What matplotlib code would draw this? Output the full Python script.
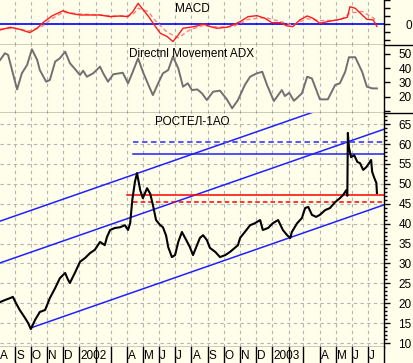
import numpy as np
import pandas as pd
import matplotlib
matplotlib.use('Agg')
import matplotlib.pyplot as plt
from matplotlib.lines import Line2D

plt.rcParams['font.family'] = ['Liberation Sans', 'DejaVu Sans']

base = pd.Timestamp('2001-08-01')

# price (days since 2001-08-01, value)
price_day = [3, 12, 22, 27, 33, 40, 50, 56, 61, 69,
             78, 88, 97, 107, 116, 126, 131, 135, 145, 154,
             164, 173, 182, 192, 201, 205, 211, 220, 230, 239,
             245, 249, 253, 258, 262, 268, 273, 281, 287, 292,
             298, 306, 311, 317, 321, 328, 334, 340, 347, 355,
             362, 368, 374, 381, 387, 394, 400, 410, 419, 429,
             438, 447, 453, 457, 466, 476, 485, 495, 500, 510,
             519, 529, 538, 546, 552, 555, 565, 574, 580, 586,
             593, 601, 608, 618, 627, 637, 646, 652, 658, 660,
             661, 663, 667, 673, 679, 684, 690, 696, 701, 705,
             707, 711, 715, 716]
price_val = [20.3, 20.8, 21.3, 21.6, 20.0, 18.3, 16.3, 15.0, 13.5, 15.8,
             17.8, 18.3, 21.3, 23.8, 26.3, 27.6, 26.0, 25.1, 27.8, 30.4,
             31.4, 32.6, 33.4, 35.4, 34.6, 36.6, 38.4, 38.9, 39.1, 39.6,
             38.4, 40.1, 45.9, 50.5, 52.7, 48.4, 46.4, 48.9, 47.5, 44.7,
             40.9, 39.6, 39.1, 37.0, 34.1, 31.6, 32.1, 35.4, 37.9, 35.9,
             34.1, 32.1, 34.1, 36.4, 37.1, 35.9, 33.9, 32.9, 31.6, 32.1,
             32.9, 33.9, 34.6, 36.4, 37.9, 39.6, 40.1, 40.9, 38.4, 38.9,
             40.1, 40.9, 38.4, 37.1, 36.4, 37.9, 40.1, 41.4, 43.9, 44.2,
             42.2, 41.7, 42.2, 43.4, 43.9, 45.4, 46.4, 47.2, 48.4, 47.0,
             62.8, 59.2, 56.7, 57.2, 55.5, 55.2, 53.5, 54.2, 55.2, 56.0,
             53.0, 51.5, 50.2, 47.7]

adx_day = [3, 12, 18, 27, 35, 44, 54, 63, 73, 78,
           90, 97, 107, 116, 126, 135, 145, 154, 160, 167,
           179, 192, 198, 207, 217, 235, 245, 254, 264, 273,
           285, 292, 302, 311, 321, 330, 340, 349, 358, 366,
           376, 385, 394, 406, 419, 432, 442, 453, 466, 476,
           489, 499, 508, 521, 536, 542, 550, 559, 574, 584,
           593, 608, 623, 637, 646, 656, 663, 675, 688, 697,
           707, 716]
adx_val = [45.8, 50.5, 49.3, 36.4, 25.1, 36.4, 42.3, 53.3, 45.8, 38.7,
           30.5, 31.7, 44.6, 47.0, 51.6, 43.5, 39.2, 35.2, 38.2, 34.0,
           36.4, 41.1, 36.4, 30.5, 35.7, 36.8, 29.4, 37.5, 47.0, 37.5,
           27.0, 21.1, 29.4, 36.4, 38.7, 48.1, 39.9, 27.0, 29.4, 24.6,
           25.1, 22.3, 17.6, 23.5, 24.2, 18.1, 11.8, 17.6, 28.2, 34.0,
           36.4, 37.5, 28.2, 16.9, 24.6, 20.4, 22.7, 17.1, 22.3, 34.0,
           32.8, 18.1, 18.1, 28.2, 29.4, 37.5, 47.7, 47.7, 37.5, 27.0,
           25.8, 25.8]

macd_day = [3, 22, 40, 59, 73, 84, 101, 122, 135, 154,
            173, 192, 211, 230, 245, 254, 264, 273, 283, 296,
            306, 319, 330, 340, 349, 362, 376, 387, 400, 413,
            432, 444, 457, 472, 489, 504, 517, 533, 546, 557,
            570, 584, 595, 608, 623, 646, 660, 665, 675, 688,
            697, 709, 716]
macd_val = [-0.71, -0.38, -0.63, -1.05, -0.5, 0.2, 1.04, 1.7, 1.38, 1.16,
            1.16, 1.16, 0.95, 1.04, 0.95, 1.58, 2.62, 1.87, 1.04, -0.21,
            -1.13, -1.54, -2.17, -1.34, -0.5, -0.38, -0.21, 0.04, -0.29, -0.5,
            -0.38, -0.08, 0.33, 0.95, 1.08, 0.75, 0.2, 0.2, -0.21, -0.29,
            0.54, 1.04, 0.75, 0.12, 0.33, 0.62, 0.87, 2.2, 2.0, 1.16,
            0.62, 0.54, -0.29]
signal_day = [3, 30, 59, 84, 101, 122, 154, 192, 230, 254,
              264, 283, 296, 319, 340, 362, 387, 413, 444, 472,
              504, 533, 557, 584, 608, 646, 665, 688, 709, 716]
signal_val = [-0.6, -0.5, -0.85, -0.2, 0.7, 1.5, 1.3, 1.15, 1.0, 1.2,
              2.0, 1.6, 0.5, -1.0, -1.7, -0.7, -0.15, -0.35, -0.3, 0.6,
              0.85, 0.35, -0.1, 0.7, 0.45, 0.5, 1.4, 1.6, 0.8, 0.4]

# trend channel (start day, start value, end day, end value)
chan_low = [61, 13.8, 729, 44.7]
chan_mid = [0, 30.0, 729, 63.7]
chan_up = [0, 40.5, 729, 74.2]

# horizontal levels: value, start day
lvl_blue_dash = [60.5, 254]
lvl_blue = [57.4, 254]
lvl_red = [47.1, 243]
lvl_red_dash = [45.4, 254]

months = pd.date_range('2001-08-01', '2003-07-01', freq='MS')
month_labels = ['A', 'S', 'O', 'N', 'D', '2002', '', '', 'A', 'M', 'J', 'J',
                'A', 'S', 'O', 'N', 'D', '2003', '', '', 'A', 'M', 'J', 'J']


def d(days):
    return base + pd.to_timedelta(np.asarray(days, dtype=float), unit='D')


bg = '#fffeea'
grid = '#b4b4b4'
W, H = 414, 363
fig = plt.figure(figsize=(W / 100, H / 100), dpi=100, facecolor=bg)
R = 384 / W
ax_m = fig.add_axes([0, 1 - 45 / H, R, 45 / H])
ax_a = fig.add_axes([0, 1 - 113 / H, R, 68 / H])
ax_p = fig.add_axes([0, 16 / H, R, 234 / H])
ax_l = fig.add_axes([0, 0, R, 16 / H])

xmin, xmax = d([2.65])[0], d([729.4])[0]
fs = 8.5

for ax in (ax_m, ax_a, ax_p, ax_l):
    ax.set_facecolor(bg)
    ax.set_xlim(xmin, xmax)
    for s in ('left', 'top'):
        ax.spines[s].set_visible(False)
    ax.spines['right'].set_linewidth(1)
    ax.spines['bottom'].set_linewidth(1)
    ax.set_xticks([])
    ax.yaxis.tick_right()

for ax in (ax_m, ax_a, ax_p):
    for m in months:
        ax.axvline(m, color=grid, lw=0.8, ls=(0, (3, 3)), zorder=0)

# MACD
ax_m.set_ylim(-2.6, 3.04)
ax_m.axhline(0, color='#0000ff', lw=1.2, zorder=2)
ax_m.plot(d(signal_day), signal_val, color='#ff8080', lw=1, ls=(0, (3, 2)), zorder=3)
ax_m.plot(d(macd_day), macd_val, color='#ff1a1a', lw=1, zorder=4)
ax_m.set_yticks([-2, -1, 0, 1, 2, 3])
ax_m.set_yticklabels(['', '', '0', '', '', ''])
ax_m.text(0.5, 0.8, 'MACD', transform=ax_m.transAxes, ha='center', va='center', fontsize=fs)

# ADX
ax_a.set_ylim(8.5, 56.3)
ax_a.plot(d(adx_day), adx_val, color='#707070', lw=1.4, zorder=3)
ax_a.set_yticks([10, 20, 30, 40, 50])
ax_a.set_yticklabels(['', '20', '30', '40', '50'])
ax_a.text(0.5, 0.87, 'Directnl Movement ADX', transform=ax_a.transAxes,
          ha='center', va='center', fontsize=fs)

# price
ax_p.set_ylim(9.0, 67.8)
for v in range(10, 70, 5):
    ax_p.axhline(v, color=grid, lw=0.8, ls=(0, (3, 3)), zorder=0)
blue = '#2020ff'
for c in (chan_low, chan_mid, chan_up):
    ax_p.plot(d([c[0], c[2]]), [c[1], c[3]], color=blue, lw=1.1, zorder=2)
ax_p.plot(d([lvl_blue_dash[1], 729.4]), [lvl_blue_dash[0]] * 2, color='#4848ff', lw=1.3,
          ls=(0, (3, 2)), zorder=2)
ax_p.plot(d([lvl_blue[1], 729.4]), [lvl_blue[0]] * 2, color=blue, lw=1.1, zorder=2)
ax_p.plot(d([lvl_red[1], 729.4]), [lvl_red[0]] * 2, color='#ff0000', lw=1.1, zorder=2)
ax_p.plot(d([lvl_red_dash[1], 729.4]), [lvl_red_dash[0]] * 2, color='#ff0000', lw=1.1,
          ls=(0, (3, 2)), zorder=2)
ax_p.plot(d(price_day), price_val, color='black', lw=1.5, zorder=4)
ax_p.set_yticks(range(10, 70, 5))
ax_p.set_yticks(range(10, 68), minor=True)
ax_p.text(0.5, 0.962, 'РОСТЕЛ-1АО', transform=ax_p.transAxes, ha='center', va='center', fontsize=fs)

for ax in (ax_m, ax_a, ax_p):
    ax.tick_params(axis='y', which='major', direction='out', length=4, width=1,
                   pad=16, labelsize=fs)
    ax.tick_params(axis='y', which='minor', direction='out', length=2, width=1)
    for t in ax.get_yticklabels():
        t.set_horizontalalignment('right')

# month strip
ax_l.set_ylim(0, 1)
ax_l.set_yticks([])
ax_l.spines['bottom'].set_visible(False)
for m, lab in zip(months, month_labels):
    ax_l.axvline(m, color='black', lw=1)
    ax_l.text(m + pd.Timedelta(days=2), 0.45, lab, ha='left', va='center', fontsize=fs)

# separators across the full width
for yy in (1 - 45 / H, 1 - 113 / H):
    fig.add_artist(Line2D([R, 1], [yy, yy], color='black', lw=1, transform=fig.transFigure))

fig.savefig('out.png', dpi=100, facecolor=bg)
